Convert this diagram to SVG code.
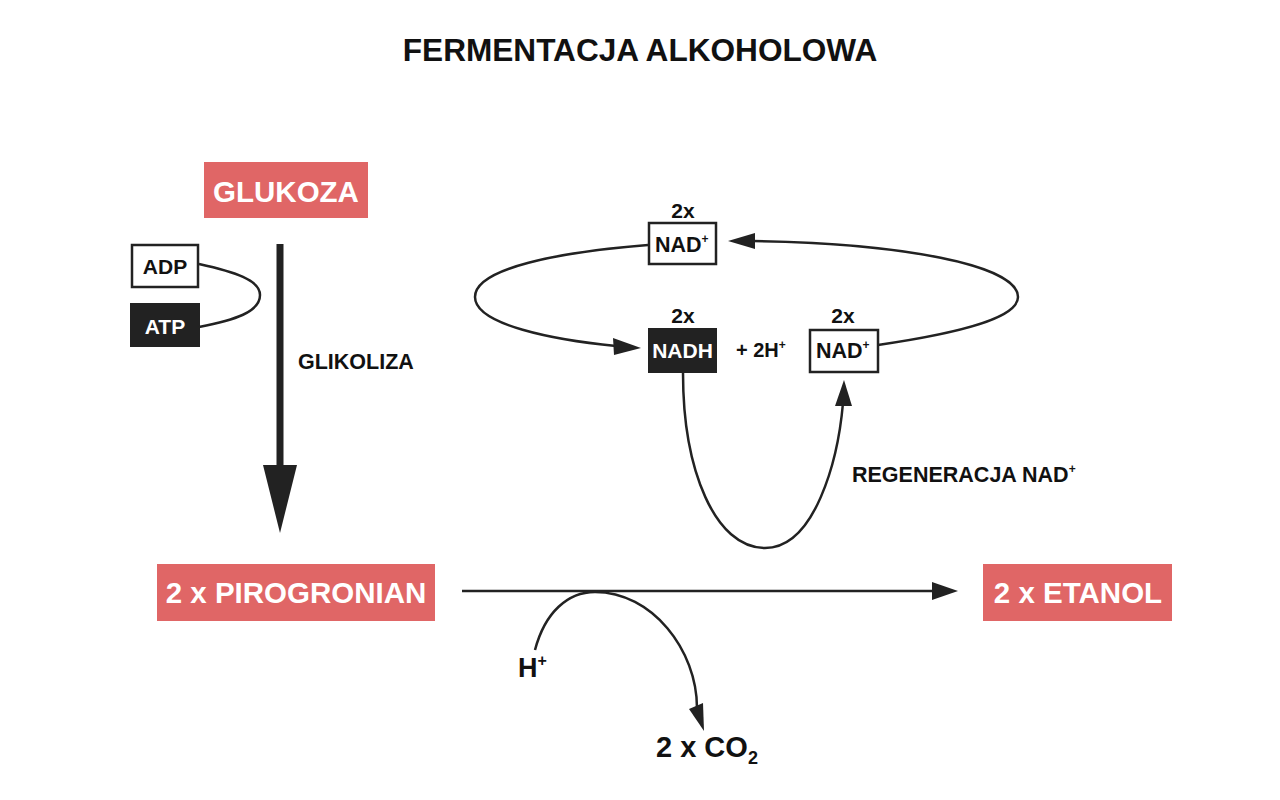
<svg xmlns="http://www.w3.org/2000/svg" width="1280" height="800" viewBox="0 0 1280 800">
<style>
text{font-family:"Liberation Sans",Arial,sans-serif;font-weight:bold;fill:#111}
.red{fill:#e06666}
.w{fill:#fff}
.wbox{fill:#fff;stroke:#222;stroke-width:2.5}
.dbox{fill:#222}
.ln{fill:none;stroke:#222;stroke-width:2.5}
.hd{fill:#222}
</style>
<rect width="1280" height="800" fill="#fff"/>
<text x="640" y="61" font-size="31.6" text-anchor="middle">FERMENTACJA ALKOHOLOWA</text>

<g id="glukoza"><rect class="red" x="204" y="162" width="164" height="56"/><text class="w" x="286" y="202" font-size="29.5" text-anchor="middle">GLUKOZA</text></g>
<g id="adp"><rect class="wbox" x="132" y="245" width="66" height="42"/><text x="165" y="274" font-size="21" text-anchor="middle">ADP</text></g>
<g id="atp"><rect class="dbox" x="130" y="303" width="70" height="44"/><text class="w" x="165" y="334" font-size="21" text-anchor="middle">ATP</text></g>
<g id="glikoliza"><text x="298" y="369" font-size="21.5">GLIKOLIZA</text></g>
<g id="pirogronian"><rect class="red" x="157" y="564" width="278" height="57"/><text class="w" x="296" y="603" font-size="29.5" text-anchor="middle">2 x PIROGRONIAN</text></g>
<g id="etanol"><rect class="red" x="983" y="564" width="189" height="57"/><text class="w" x="1078" y="603" font-size="29.5" text-anchor="middle">2 x ETANOL</text></g>
<g id="hplus"><text x="518" y="677" font-size="27">H<tspan font-size="16" dy="-11">+</tspan></text></g>
<g id="co2"><text x="656" y="757" font-size="29">2 x CO<tspan font-size="18" dy="7">2</tspan></text></g>

<g id="nad-top"><text x="683" y="218" font-size="21" text-anchor="middle">2x</text><rect class="wbox" x="649" y="223" width="67" height="41"/><text x="655" y="252" font-size="21.5">NAD<tspan font-size="12" dy="-9">+</tspan></text></g>
<g id="nadh"><text x="683" y="323" font-size="21" text-anchor="middle">2x</text><rect class="dbox" x="648" y="328" width="69" height="45"/><text class="w" x="682.5" y="358" font-size="21" text-anchor="middle">NADH</text></g>
<g id="h2"><text x="736" y="357" font-size="20">+ 2H<tspan font-size="12" dy="-8">+</tspan></text></g>
<g id="nad-right"><text x="843" y="323" font-size="21" text-anchor="middle">2x</text><rect class="wbox" x="810" y="330" width="68" height="42"/><text x="816" y="358" font-size="21.5">NAD<tspan font-size="12" dy="-9">+</tspan></text></g>
<g id="regeneracja"><text x="852" y="482" font-size="21.5">REGENERACJA NAD<tspan font-size="12" dy="-9">+</tspan></text></g>

<g id="connectors">
<line x1="280" y1="244" x2="280" y2="468" stroke="#222" stroke-width="7"/>
<polygon class="hd" points="263,465 297,465 280,533"/>
<path class="ln" d="M199,264 C235,272 260,280 260,295 C260,312 235,320 199,327"/>
<line class="ln" x1="462" y1="591" x2="934" y2="591"/>
<polygon class="hd" points="958,591 932,582 932,600"/>
<path class="ln" d="M535,650 C545,612 568,592 595,592 C652,592 697,650 697,708"/>
<polygon class="hd" points="704,731 689,709 703,703"/>
<path class="ln" d="M648,245 C560,252 475,268 475,297 C475,325 555,340 616,346"/>
<polygon class="hd" points="641,348 613,338 614,355"/>
<path class="ln" d="M878,345 C960,333 1018,318 1018,297 C1018,265 900,243 753,241"/>
<polygon class="hd" points="728,241 755,233 755,249"/>
<path class="ln" d="M683,373 C683,470 715,548 765,548 C815,548 838,460 843,403"/>
<polygon class="hd" points="844,380 835,406 852,406"/>
</g>
</svg>
